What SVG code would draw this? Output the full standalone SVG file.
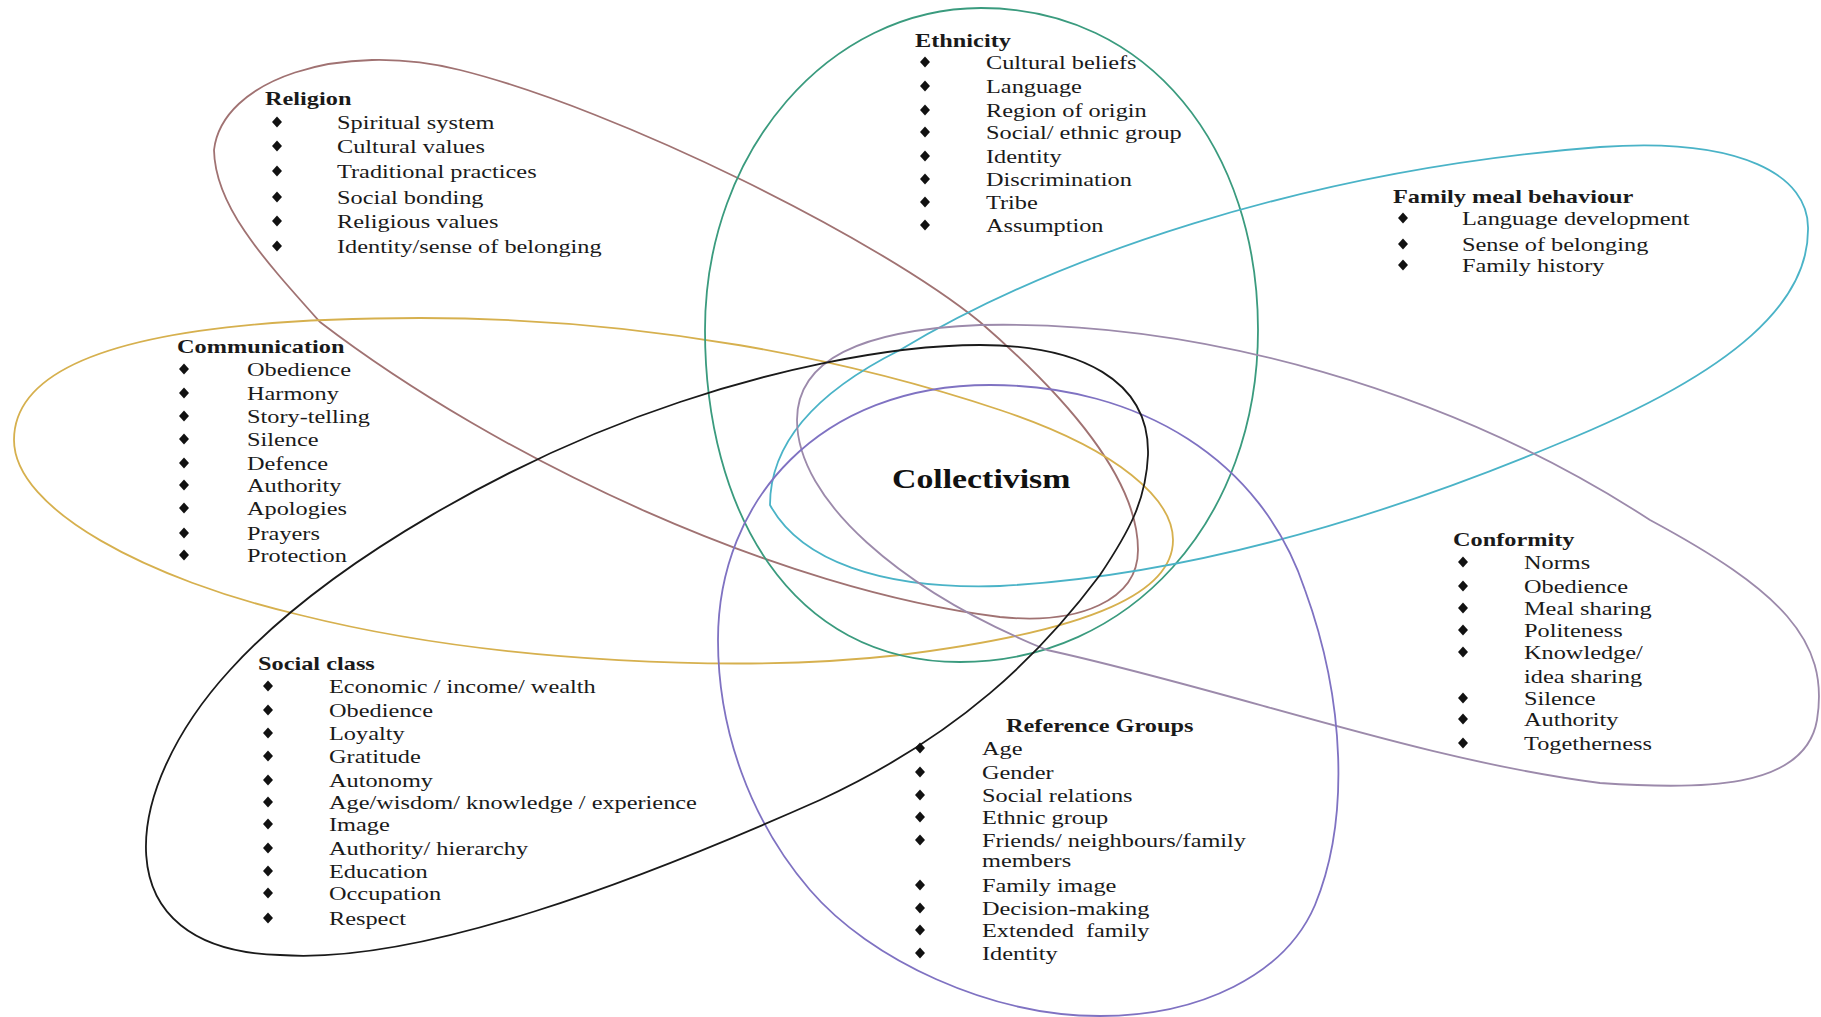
<svg xmlns="http://www.w3.org/2000/svg" xmlns:xlink="http://www.w3.org/1999/xlink" width="1821" height="1017" viewBox="0 0 1821 1017">
<style>
.p{fill:none;stroke-width:1.8}
.t{font-family:"Liberation Serif","Times New Roman",serif;font-size:19px;fill:#1a1a1a}
.h{font-family:"Liberation Serif","Times New Roman",serif;font-size:19px;font-weight:bold;fill:#1a1a1a}
.c{font-family:"Liberation Serif","Times New Roman",serif;font-size:27.5px;font-weight:bold;fill:#111}
</style>
<defs>
<polygon id="d" points="0,-5.5 5,0 0,5.5 -5,0" fill="#111"/>
</defs>
<rect width="1821" height="1017" fill="#fff"/>
<g id="connectors">
<path id="religion-shape" class="p" stroke="#a07272" d="M 1138 550 C 1138 480 1070 400 980 322 C 880 240 620 110 460 70 C 340 40 222 80 214 150 C 215 205 260 255 320 322 C 500 460 780 590 1000 617 C 1080 625 1138 600 1138 550 Z"/>
<path id="communication-shape" class="p" stroke="#d6b04e" d="M 14 440 C 14 350 180 318 420 318 C 650 318 850 360 1000 410 C 1120 450 1173 500 1173 540 C 1173 590 1100 630 900 655 C 750 672 500 665 300 615 C 150 580 14 510 14 440 Z"/>
<path id="ethnicity-shape" class="p" stroke="#3a9b7e" d="M 981 8 C 1150 8 1258 150 1258 330 C 1258 520 1130 662 960 662 C 790 662 705 510 705 330 C 705 150 830 8 981 8 Z"/>
<path id="family-shape" class="p" stroke="#4ab3c7" d="M 770 505 C 770 440 820 390 900 350 C 1050 260 1300 170 1600 147 C 1740 137 1810 175 1808 230 C 1808 300 1740 370 1560 443 C 1400 510 1200 575 1000 586 C 880 590 800 560 770 505 Z"/>
<path id="conformity-shape" class="p" stroke="#9c8aab" d="M 797 420 C 797 360 860 330 980 325 C 1200 320 1450 390 1650 520 C 1780 590 1830 640 1817 720 C 1805 790 1700 790 1600 783 C 1420 760 1230 690 1047 650 C 900 590 797 500 797 420 Z"/>
<path id="reference-shape" class="p" stroke="#7f72c2" d="M 718 640 C 718 500 820 385 990 385 C 1140 385 1262 460 1305 590 C 1345 700 1350 820 1315 905 C 1285 975 1200 1016 1100 1016 C 990 1016 870 960 810 890 C 750 820 718 730 718 640 Z"/>
<path id="social-shape" class="p" stroke="#1a1a1a" d="M 1148 455 C 1150 380 1080 345 980 345 C 880 345 760 375 680 402 C 520 455 330 560 230 670 C 120 790 100 950 280 955 C 420 965 640 880 820 800 C 960 735 1040 655 1100 575 C 1130 530 1146 500 1148 455 Z"/>
</g>
<g id="religion">
<text class="h" transform="translate(265 105) scale(1.28 1)">Religion</text>
<use xlink:href="#d" x="277" y="122"/><use xlink:href="#d" x="277" y="146"/><use xlink:href="#d" x="277" y="171"/><use xlink:href="#d" x="277" y="197"/><use xlink:href="#d" x="277" y="221"/><use xlink:href="#d" x="277" y="246"/>
<text class="t" transform="translate(337 129) scale(1.28 1)">Spiritual system</text>
<text class="t" transform="translate(337 153) scale(1.28 1)">Cultural values</text>
<text class="t" transform="translate(337 178) scale(1.28 1)">Traditional practices</text>
<text class="t" transform="translate(337 204) scale(1.28 1)">Social bonding</text>
<text class="t" transform="translate(337 228) scale(1.28 1)">Religious values</text>
<text class="t" transform="translate(337 253) scale(1.28 1)">Identity/sense of belonging</text>
</g>
<g id="ethnicity">
<text class="h" transform="translate(915 47) scale(1.28 1)">Ethnicity</text>
<use xlink:href="#d" x="925" y="62"/><use xlink:href="#d" x="925" y="86"/><use xlink:href="#d" x="925" y="110"/><use xlink:href="#d" x="925" y="132"/><use xlink:href="#d" x="925" y="156"/><use xlink:href="#d" x="925" y="179"/><use xlink:href="#d" x="925" y="202"/><use xlink:href="#d" x="925" y="225"/>
<text class="t" transform="translate(986 69) scale(1.28 1)">Cultural beliefs</text>
<text class="t" transform="translate(986 93) scale(1.28 1)">Language</text>
<text class="t" transform="translate(986 117) scale(1.28 1)">Region of origin</text>
<text class="t" transform="translate(986 139) scale(1.28 1)">Social/ ethnic group</text>
<text class="t" transform="translate(986 163) scale(1.28 1)">Identity</text>
<text class="t" transform="translate(986 186) scale(1.28 1)">Discrimination</text>
<text class="t" transform="translate(986 209) scale(1.28 1)">Tribe</text>
<text class="t" transform="translate(986 232) scale(1.28 1)">Assumption</text>
</g>
<g id="family-meal">
<text class="h" transform="translate(1393 203) scale(1.28 1)">Family meal behaviour</text>
<use xlink:href="#d" x="1403" y="218"/><use xlink:href="#d" x="1403" y="244"/><use xlink:href="#d" x="1403" y="265"/>
<text class="t" transform="translate(1462 225) scale(1.28 1)">Language development</text>
<text class="t" transform="translate(1462 251) scale(1.28 1)">Sense of belonging</text>
<text class="t" transform="translate(1462 272) scale(1.28 1)">Family history</text>
</g>
<g id="communication">
<text class="h" transform="translate(177 353) scale(1.28 1)">Communication</text>
<use xlink:href="#d" x="184" y="369"/><use xlink:href="#d" x="184" y="393"/><use xlink:href="#d" x="184" y="416"/><use xlink:href="#d" x="184" y="439"/><use xlink:href="#d" x="184" y="463"/><use xlink:href="#d" x="184" y="485"/><use xlink:href="#d" x="184" y="508"/><use xlink:href="#d" x="184" y="533"/><use xlink:href="#d" x="184" y="555"/>
<text class="t" transform="translate(247 376) scale(1.28 1)">Obedience</text>
<text class="t" transform="translate(247 400) scale(1.28 1)">Harmony</text>
<text class="t" transform="translate(247 423) scale(1.28 1)">Story-telling</text>
<text class="t" transform="translate(247 446) scale(1.28 1)">Silence</text>
<text class="t" transform="translate(247 470) scale(1.28 1)">Defence</text>
<text class="t" transform="translate(247 492) scale(1.28 1)">Authority</text>
<text class="t" transform="translate(247 515) scale(1.28 1)">Apologies</text>
<text class="t" transform="translate(247 540) scale(1.28 1)">Prayers</text>
<text class="t" transform="translate(247 562) scale(1.28 1)">Protection</text>
</g>
<g id="social-class">
<text class="h" transform="translate(258 670) scale(1.28 1)">Social class</text>
<use xlink:href="#d" x="268" y="686"/><use xlink:href="#d" x="268" y="710"/><use xlink:href="#d" x="268" y="733"/><use xlink:href="#d" x="268" y="756"/><use xlink:href="#d" x="268" y="780"/><use xlink:href="#d" x="268" y="802"/><use xlink:href="#d" x="268" y="824"/><use xlink:href="#d" x="268" y="848"/><use xlink:href="#d" x="268" y="871"/><use xlink:href="#d" x="268" y="893"/><use xlink:href="#d" x="268" y="918"/>
<text class="t" transform="translate(329 693) scale(1.28 1)">Economic / income/ wealth</text>
<text class="t" transform="translate(329 717) scale(1.28 1)">Obedience</text>
<text class="t" transform="translate(329 740) scale(1.28 1)">Loyalty</text>
<text class="t" transform="translate(329 763) scale(1.28 1)">Gratitude</text>
<text class="t" transform="translate(329 787) scale(1.28 1)">Autonomy</text>
<text class="t" transform="translate(329 809) scale(1.28 1)">Age/wisdom/ knowledge / experience</text>
<text class="t" transform="translate(329 831) scale(1.28 1)">Image</text>
<text class="t" transform="translate(329 855) scale(1.28 1)">Authority/ hierarchy</text>
<text class="t" transform="translate(329 878) scale(1.28 1)">Education</text>
<text class="t" transform="translate(329 900) scale(1.28 1)">Occupation</text>
<text class="t" transform="translate(329 925) scale(1.28 1)">Respect</text>
</g>
<g id="reference-groups">
<text class="h" transform="translate(1006 732) scale(1.28 1)">Reference Groups</text>
<use xlink:href="#d" x="920" y="748"/><use xlink:href="#d" x="920" y="772"/><use xlink:href="#d" x="920" y="795"/><use xlink:href="#d" x="920" y="817"/><use xlink:href="#d" x="920" y="840"/><use xlink:href="#d" x="920" y="885"/><use xlink:href="#d" x="920" y="908"/><use xlink:href="#d" x="920" y="930"/><use xlink:href="#d" x="920" y="953"/>
<text class="t" transform="translate(982 755) scale(1.28 1)">Age</text>
<text class="t" transform="translate(982 779) scale(1.28 1)">Gender</text>
<text class="t" transform="translate(982 802) scale(1.28 1)">Social relations</text>
<text class="t" transform="translate(982 824) scale(1.28 1)">Ethnic group</text>
<text class="t" transform="translate(982 847) scale(1.28 1)">Friends/ neighbours/family</text>
<text class="t" transform="translate(982 867) scale(1.28 1)">members</text>
<text class="t" transform="translate(982 892) scale(1.28 1)">Family image</text>
<text class="t" transform="translate(982 915) scale(1.28 1)">Decision-making</text>
<text class="t" transform="translate(982 937) scale(1.28 1)" xml:space="preserve">Extended  family</text>
<text class="t" transform="translate(982 960) scale(1.28 1)">Identity</text>
</g>
<g id="conformity">
<text class="h" transform="translate(1453 546) scale(1.28 1)">Conformity</text>
<use xlink:href="#d" x="1463" y="562"/><use xlink:href="#d" x="1463" y="586"/><use xlink:href="#d" x="1463" y="608"/><use xlink:href="#d" x="1463" y="630"/><use xlink:href="#d" x="1463" y="652"/><use xlink:href="#d" x="1463" y="698"/><use xlink:href="#d" x="1463" y="719"/><use xlink:href="#d" x="1463" y="743"/>
<text class="t" transform="translate(1524 569) scale(1.28 1)">Norms</text>
<text class="t" transform="translate(1524 593) scale(1.28 1)">Obedience</text>
<text class="t" transform="translate(1524 615) scale(1.28 1)">Meal sharing</text>
<text class="t" transform="translate(1524 637) scale(1.28 1)">Politeness</text>
<text class="t" transform="translate(1524 659) scale(1.28 1)">Knowledge/</text>
<text class="t" transform="translate(1524 683) scale(1.28 1)">idea sharing</text>
<text class="t" transform="translate(1524 705) scale(1.28 1)">Silence</text>
<text class="t" transform="translate(1524 726) scale(1.28 1)">Authority</text>
<text class="t" transform="translate(1524 750) scale(1.28 1)">Togetherness</text>
</g>
<g id="collectivism">
<text class="c" transform="translate(892 488) scale(1.23 1)">Collectivism</text>
</g>
</svg>
